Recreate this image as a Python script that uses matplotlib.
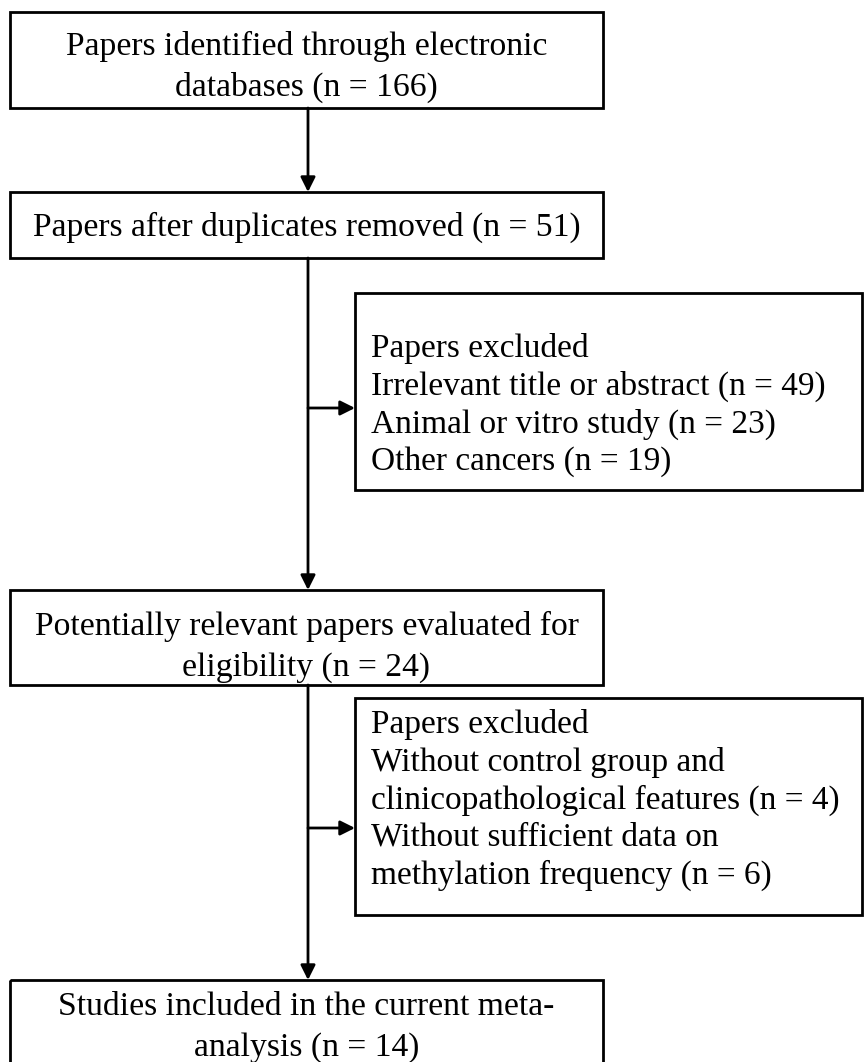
import matplotlib.pyplot as plt
from matplotlib.patches import Rectangle

plt.rcParams['font.family'] = ['Liberation Serif', 'DejaVu Serif']

# textos de las cajas principales (columna izquierda)
main_texts = [
    'Papers identified through electronic\ndatabases (n = 166)',
    'Papers after duplicates removed (n = 51)',
    'Potentially relevant papers evaluated for\neligibility (n = 24)',
    'Studies included in the current meta-\nanalysis (n = 14)',
]
# textos de las cajas de exclusion (columna derecha)
side_texts = [
    'Papers excluded\nIrrelevant title or abstract (n = 49)\nAnimal or vitro study (n = 23)\nOther cancers (n = 19)',
    'Papers excluded\nWithout control group and\nclinicopathological features (n = 4)\nWithout sufficient data on\nmethylation frequency (n = 6)',
]

# cajas en pixeles: (x0, y0, x1, y1)
main_boxes = [(10, 12, 603, 108), (10, 192, 603, 258), (10, 590, 603, 685), (10, 980, 603, 1080)]
main_text_y = [67, 227, 647, 1027]
side_boxes = [(355, 293, 862, 490), (355, 698, 862, 915)]
side_text_y = [405, 800]
side_arrow_y = [408, 828]
xc = 308

fig = plt.figure(figsize=(8.67, 10.62), dpi=100)
ax = fig.add_axes([0, 0, 1, 1])
ax.set_xlim(0, 867)
ax.set_ylim(1062, 0)
ax.axis('off')

for (x0, y0, x1, y1), t, ty in zip(main_boxes, main_texts, main_text_y):
    ax.add_patch(Rectangle((x0, y0), x1 - x0, y1 - y0, fill=False, lw=2, ec='black', clip_on=False))
    ax.text((x0 + x1) / 2, ty, t, ha='center', va='center',
            fontsize=24.2, linespacing=1.42)

for (x0, y0, x1, y1), t, ty in zip(side_boxes, side_texts, side_text_y):
    ax.add_patch(Rectangle((x0, y0), x1 - x0, y1 - y0, fill=False, lw=2, ec='black'))
    ax.text(x0 + 16, ty, t, ha='left', va='center',
            fontsize=24, linespacing=1.28)

flecha = dict(arrowstyle='-|>', lw=2, color='black', mutation_scale=22, shrinkA=0, shrinkB=0)

# flechas verticales entre cajas principales
for b1, b2 in zip(main_boxes[:-1], main_boxes[1:]):
    ax.annotate('', xy=(xc, b2[1]), xytext=(xc, b1[3]), arrowprops=flecha)

# flechas horizontales a las cajas de exclusion
for sb, ym in zip(side_boxes, side_arrow_y):
    ax.annotate('', xy=(sb[0], ym), xytext=(xc, ym), arrowprops=flecha)

fig.savefig('out.png', dpi=100)
